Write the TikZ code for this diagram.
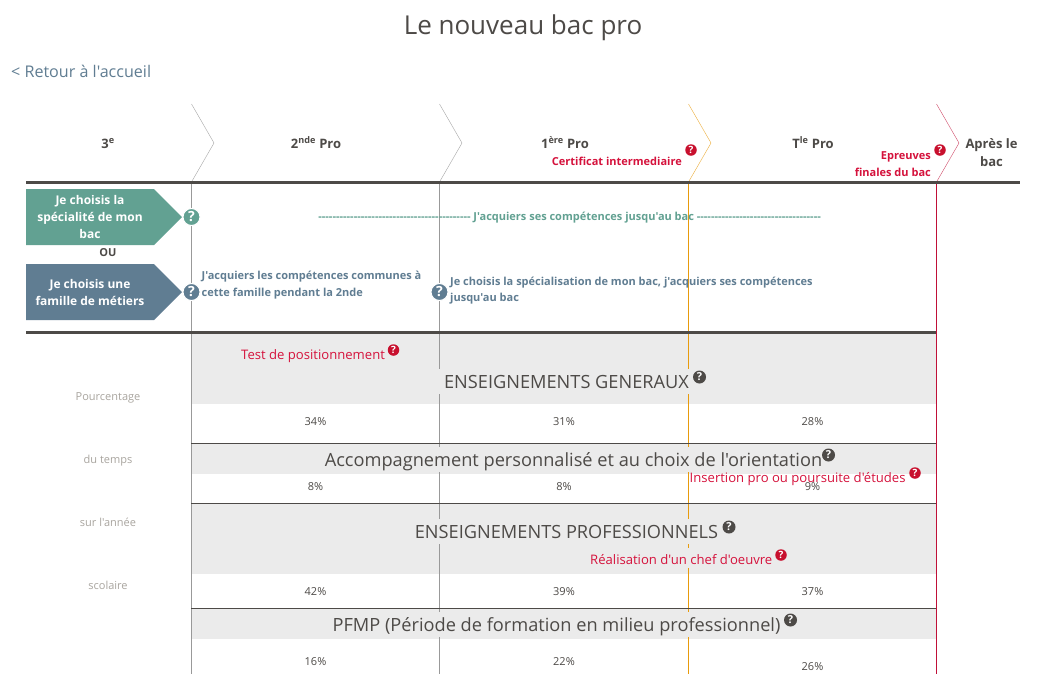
\documentclass[tikz,border=0pt]{standalone}
\usepackage{fontspec}
\newfontfamily\opensans{Open Sans}
\definecolor{darktext}{HTML}{4D4A47}
\definecolor{tealbox}{HTML}{62A192}
\definecolor{bluebox}{HTML}{607D92}
\definecolor{redmark}{HTML}{C8102E}
\definecolor{redtext}{HTML}{D5123C}
\definecolor{bandgray}{HTML}{EBEBEB}
\definecolor{stepgray}{HTML}{999999}
\definecolor{steporange}{HTML}{E89B0C}
\definecolor{stepred}{HTML}{C01038}
\definecolor{sidegray}{HTML}{A9A59F}
\newcommand{\px}[1]{\fontsize{#1}{#1}\selectfont}
\tikzset{
    txt/.style={inner sep=0pt, text=darktext, font=\opensans\px{12}, align=center},
    yearhead/.style={txt, anchor=base, font=\opensans\bfseries\px{13}},
    redlabel/.style={txt, anchor=base west, text=redtext, font=\opensans\px{13.1}},
    redsmall/.style={txt, text=redtext, font=\opensans\bfseries\px{11}, align=right},
    heading/.style={txt, anchor=base, font=\opensans\px{18.2}, fill=bandgray, minimum width=600, text height=19, text depth=6},
    pct/.style={txt, anchor=base, font=\opensans\px{11}},
    sidetxt/.style={txt, anchor=base, text=sidegray, font=\opensans\px{11}},
    boxtxt/.style={txt, text=white, font=\opensans\bfseries\px{12}},
    bluetxt/.style={txt, anchor=west, text=bluebox, font=\opensans\bfseries\px{11}, align=left},
    helpmark/.style={circle, fill=#1, draw=white, line width=1pt, text=white, inner sep=0pt, minimum size=17, font=\opensans\bfseries\px{14}},
    helpsmall/.style={circle, fill=#1, text=white, inner sep=0pt, minimum size=11.5, font=\opensans\bfseries\px{10}},
    helpdark/.style={helpsmall=darktext, minimum size=13, font=\opensans\bfseries\px{11}},
}
\begin{document}
\begin{tikzpicture}[x=1pt, y=-1pt]
    \useasboundingbox[fill=white] (0, 0) rectangle (1062, 686);
    \node[txt, anchor=base, font=\opensans\px{26}] (title) at (523, 34) {Le nouveau bac pro};
    \node[txt, anchor=base west, text=bluebox, font=\opensans\px{16.1}] (back) at (11, 77) {< Retour à l'accueil};

    \foreach \y/\h in {333/71, 443/31, 503/71, 608/31} {
        \fill[bandgray] (191, \y) rectangle (936, \y + \h);
    }
    \foreach \x/\c in {191/stepgray, 439/stepgray, 688/steporange, 936/stepred} {
        \draw[\c, line width=1.1pt] (\x + 0.5, 182) -- (\x + 0.5, 674);
    }
    \foreach \x/\c in {191/black!35, 439/black!35, 688/steporange!80, 936/stepred!75} {
        \draw[\c] (\x + 0.5, 104) -- (\x + 23, 143) -- (\x + 0.5, 182);
    }
    \foreach \y in {443.5, 503.5, 608.5} {
        \draw[darktext, line width=0.8pt] (191, \y) -- (936, \y);
    }
    \draw[darktext, line width=3pt] (26, 182.5) -- (1020, 182.5);
    \draw[darktext, line width=3pt] (26, 332.5) -- (936, 332.5);

    \node[yearhead] (third) at (108, 148) {3\textsuperscript{e}};
    \node[yearhead] (second) at (316, 148) {2\textsuperscript{nde} Pro};
    \node[yearhead] (first) at (565, 148) {1\textsuperscript{ère} Pro};
    \node[yearhead] (final) at (813, 148) {T\textsuperscript{le} Pro};
    \node[txt, font=\opensans\bfseries\px{13}] (after) at (991.5, 153) {Après le\\[5pt]bac};

    \node[redsmall, anchor=east] (certif) at (682, 161) {Certificat intermediaire};
    \node[helpsmall=redmark] (certifq) at (691, 150) {?};
    \node[redsmall, anchor=north east] (finals) at (931, 151) {Epreuves\\[5pt]finales du bac};
    \node[helpsmall=redmark] (finalsq) at (940, 150) {?};

    \fill[tealbox] (26, 189) -- (154, 189) -- (182, 217) -- (154, 245) -- (26, 245) -- cycle;
    \fill[bluebox] (26, 264) -- (154, 264) -- (182, 292) -- (154, 320) -- (26, 320) -- cycle;
    \node[boxtxt] (speciality) at (90, 217) {Je choisis la\\[5pt]spécialité de mon\\[5pt]bac};
    \node[boxtxt] (family) at (90, 292) {Je choisis une\\[5pt]famille de métiers};
    \node[txt, anchor=base, font=\opensans\bfseries\px{11}] (either) at (108, 256) {OU};

    \node[helpmark=tealbox] (specq) at (191.5, 217) {?};
    \node[helpmark=bluebox] (famq) at (191.5, 292) {?};
    \node[helpmark=bluebox] (spe2q) at (439.5, 292) {?};

    \node[txt, anchor=base, text=tealbox, font=\opensans\bfseries\px{11}] (skills) at (569.5, 220.5) {{-}{-}{-}{-}{-}{-}{-}{-}{-}{-}{-}{-}{-}{-}{-}{-}{-}{-}{-}{-}{-}{-}{-}{-}{-}{-}{-}{-}{-}{-}{-}{-}{-}{-}{-}{-}{-}{-}{-}{-}{-}{-}{-} J'acquiers ses compétences jusqu'au bac {-}{-}{-}{-}{-}{-}{-}{-}{-}{-}{-}{-}{-}{-}{-}{-}{-}{-}{-}{-}{-}{-}{-}{-}{-}{-}{-}{-}{-}{-}{-}{-}{-}{-}{-}};
    \node[bluetxt] (common) at (201.5, 285.5) {J'acquiers les compétences communes à\\[5pt]cette famille pendant la 2nde};
    \node[bluetxt] (special) at (450, 290.5) {Je choisis la spécialisation de mon bac, j'acquiers ses compétences\\[5pt]jusqu'au bac};

    \node[redlabel] (test) at (241, 359) {Test de positionnement};
    \node[helpsmall=redmark] (testq) at (393.5, 350) {?};
    \node[heading] (general) at (566.5, 388) {ENSEIGNEMENTS GENERAUX};
    \node[helpdark] (generalq) at (699.5, 377) {?};
    \node[heading] (support) at (573.5, 466) {Accompagnement personnalisé et au choix de l'orientation};
    \node[helpdark] (supportq) at (828.5, 455) {?};
    \node[redlabel] (insertion) at (689.5, 482) {Insertion pro ou poursuite d'études};
    \node[helpsmall=redmark] (insertionq) at (915, 473) {?};
    \node[heading] (pro) at (566.5, 538) {ENSEIGNEMENTS PROFESSIONNELS};
    \node[helpdark] (proq) at (729, 527) {?};
    \node[redlabel, fill=bandgray, text height=16, text depth=4] (masterpiece) at (590, 564) {Réalisation d'un chef d'oeuvre};
    \node[helpsmall=redmark] (masterpieceq) at (781, 555) {?};
    \node[heading] (pfmp) at (556.5, 631) {PFMP (Période de formation en milieu professionnel)};
    \node[helpdark] (pfmpq) at (790.5, 620) {?};

    \foreach \x/\y/\v in {315.5/425/34, 564/425/31, 812.5/425/28, 315.5/490/8, 564/490/8, 812.5/490/9, 315.5/595/42, 564/595/39, 812.5/595/37, 315.5/665/16, 564/665/22, 812.5/670/26} {
        \node[pct] at (\x, \y) {\v\%};
    }
    \node[sidetxt] (side1) at (108, 400) {Pourcentage};
    \node[sidetxt] (side2) at (108, 463) {du temps};
    \node[sidetxt] (side3) at (108, 526) {sur l'année};
    \node[sidetxt] (side4) at (108, 589) {scolaire};
\end{tikzpicture}
\end{document}
